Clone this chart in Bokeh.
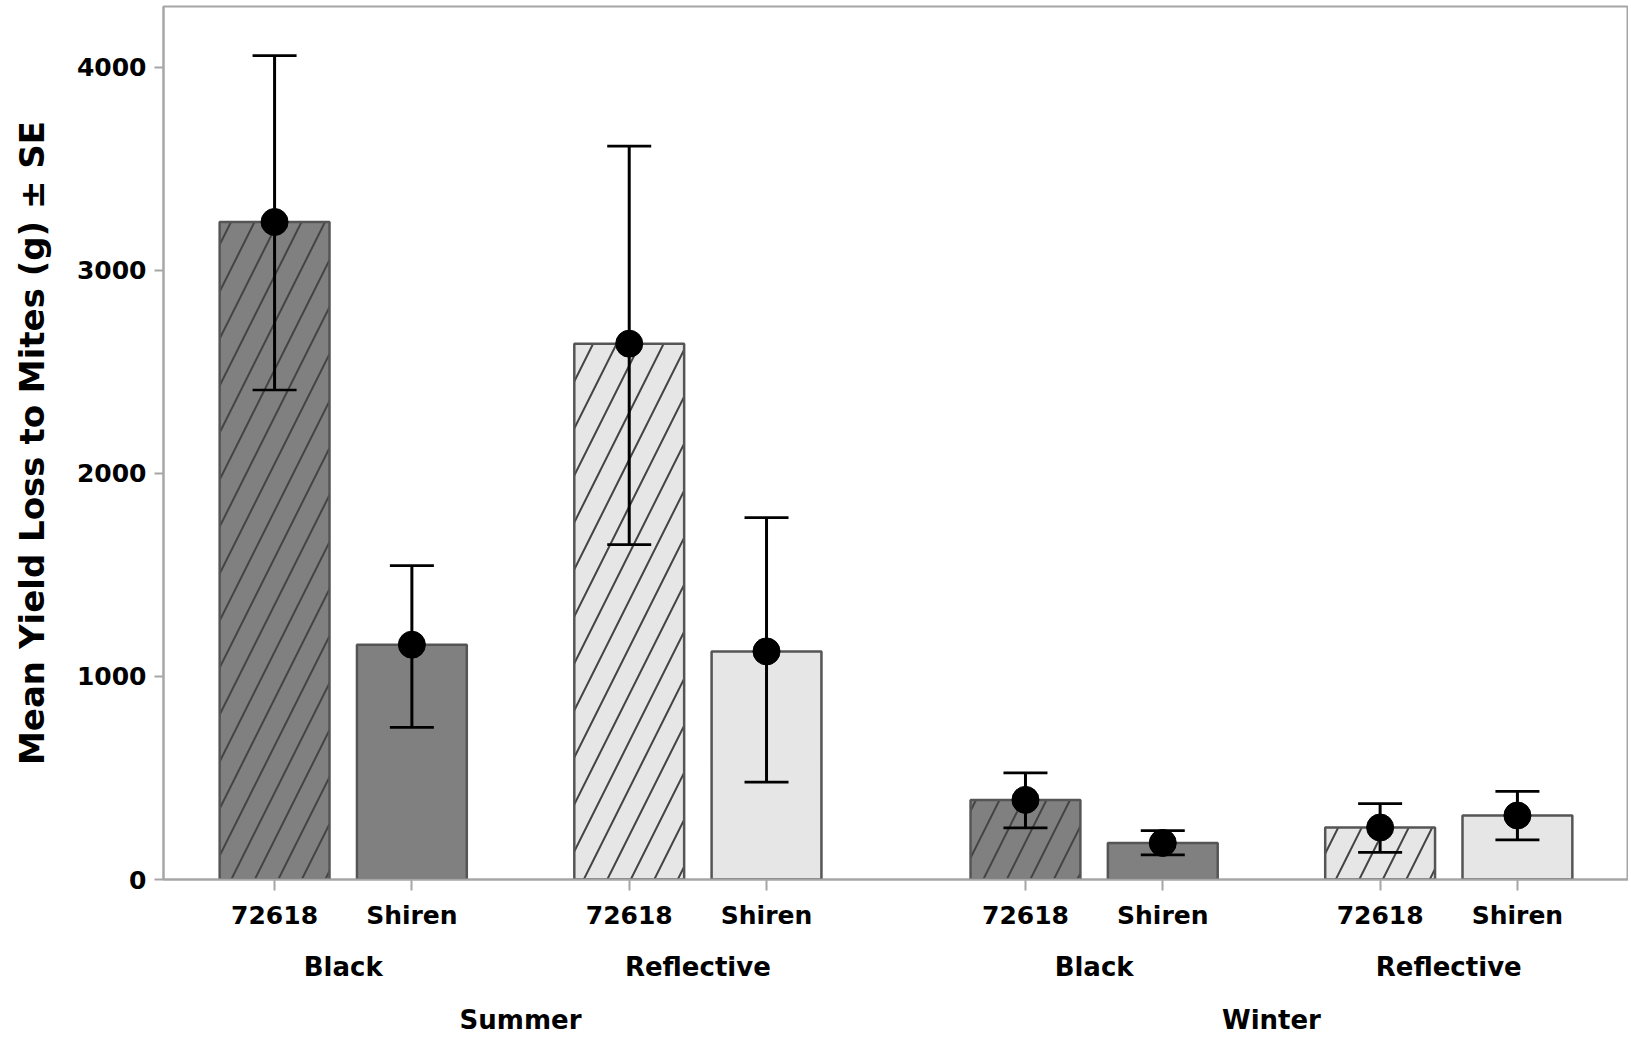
from bokeh.plotting import figure
from bokeh.models import (FactorRange, Range1d, ColumnDataSource, Whisker, TeeHead,
                          FixedTicker, CategoricalAxis)
from bokeh.embed import file_html
from bokeh.resources import INLINE

# ---- data ----
seasons = ["Summer", "Summer", "Summer", "Summer", "Winter", "Winter", "Winter", "Winter"]
mulches = ["Black", "Black", "Reflective", "Reflective", "Black", "Black", "Reflective", "Reflective"]
cultivars = ["72618", "Shiren", "72618", "Shiren", "72618", "Shiren", "72618", "Shiren"]
mean_loss = [3237, 1156, 2638, 1123, 392, 180, 256, 315]
se_upper = [4056, 1545, 3611, 1782, 525, 241, 374, 434]
se_lower = [2410, 749, 1649, 479, 254, 121, 134, 195]
y_ticks = [0, 1000, 2000, 3000, 4000]
y_title = "Mean Yield Loss to Mites (g) ± SE"

# ---- styles ----
mulch_fill = {"Black": "#808080", "Reflective": "#e6e6e6"}
cultivar_hatch = {"72618": "/", "Shiren": " "}
FONT = "DejaVu Sans"
PAD = 0.309         # outer padding of the category range (in bar slots)
SUBGAP = 0.583      # gap between mulch groups
GRPGAP = 0.886      # gap between seasons

factors = list(zip(seasons, mulches, cultivars))
src = ColumnDataSource(dict(
    x=factors,
    top=mean_loss,
    upper=se_upper,
    lower=se_lower,
    fill=[mulch_fill[m] for m in mulches],
    hatch=[cultivar_hatch[c] for c in cultivars],
))

xr = FactorRange(*factors, group_padding=GRPGAP, subgroup_padding=SUBGAP,
                 range_padding=PAD, range_padding_units="absolute")

# companion ranges for the mulch and season label rows (same geometry)
mulch_factors = list(dict.fromkeys(zip(seasons, mulches)))
season_factors = list(dict.fromkeys(seasons))
mulch_range = FactorRange(*mulch_factors, factor_padding=1 + SUBGAP, group_padding=1 + GRPGAP,
                          range_padding=PAD + 0.5, range_padding_units="absolute")
season_span = 4 + SUBGAP
season_range = FactorRange(*season_factors, factor_padding=season_span + GRPGAP - 1,
                           range_padding=PAD + (season_span - 1) / 2, range_padding_units="absolute")

p = figure(x_range=xr, y_range=Range1d(0, 4298), frame_width=1465, frame_height=873,
           output_backend="svg", toolbar_location=None,
           min_border_left=163, min_border_right=0, min_border_top=6, min_border_bottom=0)
p.extra_x_ranges = {"mulch": mulch_range, "season": season_range}

p.vbar(x="x", top="top", width=0.8, source=src, fill_color="fill",
       line_color="#555555", line_width=2.5,
       hatch_pattern="hatch", hatch_color="#444444", hatch_scale=47, hatch_weight=2)

w = Whisker(base="x", upper="upper", lower="lower", source=src,
            line_color="black", line_width=3, level="annotation",
            upper_head=TeeHead(size=44, line_color="black", line_width=2.7),
            lower_head=TeeHead(size=44, line_color="black", line_width=2.7))
p.add_layout(w)

p.scatter(x="x", y="top", size=27, color="black", source=src)

p.xgrid.visible = False
p.ygrid.visible = False
p.outline_line_color = "#a6a6a6"
p.outline_line_width = 2
p.background_fill_color = "white"
p.border_fill_color = "white"

ya = p.yaxis[0]
ya.ticker = FixedTicker(ticks=y_ticks)
ya.axis_label = y_title
ya.axis_label_text_font = FONT
ya.axis_label_text_font_style = "bold"
ya.axis_label_text_font_size = "34px"
ya.axis_label_text_color = "black"
ya.axis_label_standoff = 22
ya.major_label_text_font = FONT
ya.major_label_text_font_style = "bold"
ya.major_label_text_font_size = "25px"
ya.major_label_text_color = "black"
ya.major_label_standoff = 8
ya.major_tick_in = 0
ya.major_tick_out = 9
ya.major_tick_line_color = "#a6a6a6"
ya.major_tick_line_width = 2
ya.minor_tick_line_color = None
ya.axis_line_color = "#a6a6a6"
ya.axis_line_width = 2

xa = p.xaxis[0]
xa.major_label_text_font = FONT
xa.major_label_text_font_style = "bold"
xa.major_label_text_font_size = "25px"
xa.major_label_text_color = "black"
xa.major_label_standoff = 10
xa.group_text_font_size = "1px"
xa.group_text_alpha = 0
xa.subgroup_text_font_size = "1px"
xa.subgroup_text_alpha = 0
xa.separator_line_color = None
xa.major_tick_in = 0
xa.major_tick_out = 11
xa.major_tick_line_color = "#a6a6a6"
xa.major_tick_line_width = 2
xa.axis_line_color = "#a6a6a6"
xa.axis_line_width = 2


def label_axis(range_name, standoff):
    ax = CategoricalAxis(x_range_name=range_name)
    ax.axis_line_color = None
    ax.major_tick_line_color = None
    ax.major_tick_in = 0
    ax.major_tick_out = 0
    ax.minor_tick_line_color = None
    ax.major_label_standoff = standoff
    ax.major_label_text_font = FONT
    ax.major_label_text_font_style = "bold"
    ax.major_label_text_font_size = "26px"
    ax.major_label_text_color = "black"
    ax.group_text_font_size = "1px"
    ax.group_text_alpha = 0
    ax.separator_line_color = None
    return ax


p.add_layout(label_axis("mulch", 19), "below")
p.add_layout(label_axis("season", 20), "below")

open("out.html", "w").write(file_html(p, INLINE))
